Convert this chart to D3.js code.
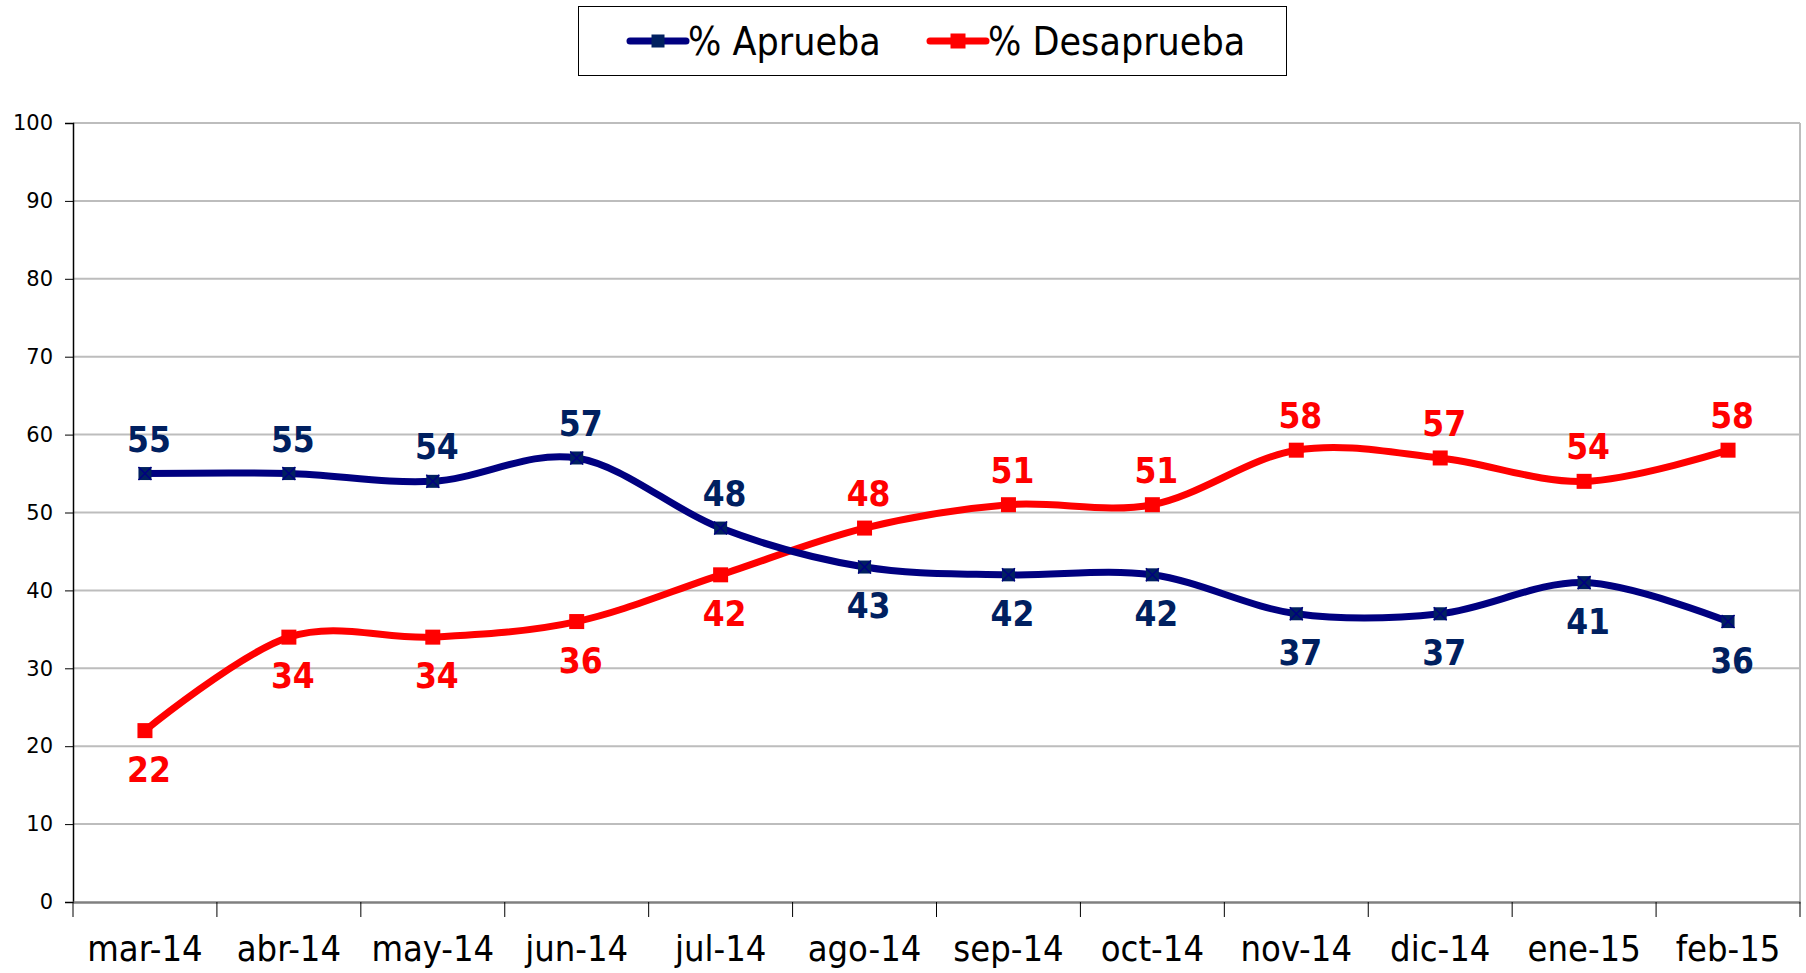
<!DOCTYPE html>
<html>
<head>
<meta charset="utf-8">
<style>
    body { margin: 0; background: #fff; }
    svg { display: block; }
    .ylab { font-family: "DejaVu Sans", Verdana, sans-serif; font-size: 21px; fill: #000; }
    .xlab, .legend-text { font-family: "DejaVu Sans Condensed", "DejaVu Sans", sans-serif; font-stretch: condensed; font-size: 36px; fill: #000; }
    .legend-text { font-size: 39px; }
    .dlabel { font-family: "DejaVu Sans Condensed", "DejaVu Sans", sans-serif; font-stretch: condensed; font-weight: bold; font-size: 35px; }
</style>
<script src="https://d3js.org/d3.v7.min.js"></script>
</head>
<body>
<svg width="1806" height="973"></svg>
<script>
    const months = ["mar-14", "abr-14", "may-14", "jun-14", "jul-14", "ago-14", "sep-14", "oct-14", "nov-14", "dic-14", "ene-15", "feb-15"];
    const aprueba = [55, 55, 54, 57, 48, 43, 42, 42, 37, 37, 41, 36];
    const desaprueba = [22, 34, 34, 36, 42, 48, 51, 51, 58, 57, 54, 58];
    const yTicks = [0, 10, 20, 30, 40, 50, 60, 70, 80, 90, 100];
    // where each value label sits relative to its point
    const apruebaSide = ["up", "up", "up", "up", "up", "down", "down", "down", "down", "down", "down", "down"];
    const desapruebaSide = ["down", "down", "down", "down", "down", "up", "up", "up", "up", "up", "up", "up"];

    const svg = d3.select("svg");
    const plotLeft = 73, plotRight = 1800, plotTop = 123, plotBottom = 902;

    const x = d3.scaleBand().domain(months).range([plotLeft, plotRight]);
    const y = d3.scaleLinear().domain([0, 100]).range([plotBottom, plotTop]);
    const cx = m => x(m) + x.bandwidth() / 2;

    // gridlines
    svg.append("g").selectAll("line")
        .data(yTicks.filter(d => d > 0))
        .join("line")
        .attr("x1", plotLeft).attr("x2", plotRight)
        .attr("y1", d => y(d)).attr("y2", d => y(d))
        .attr("stroke", "#bdbdbd").attr("stroke-width", 2);

    // right border of plot area
    svg.append("line")
        .attr("x1", plotRight).attr("x2", plotRight).attr("y1", plotTop).attr("y2", plotBottom)
        .attr("stroke", "#bdbdbd").attr("stroke-width", 2);

    // y axis
    const yAxis = svg.append("g")
        .attr("transform", `translate(${plotLeft},0)`)
        .call(d3.axisLeft(y).tickValues(yTicks).tickSize(8).tickPadding(12));
    yAxis.attr("font-family", null).attr("font-size", null);
    yAxis.select(".domain").attr("stroke", "#000").attr("stroke-width", 1.5);
    yAxis.selectAll(".tick line").attr("stroke", "#000");
    yAxis.selectAll("text").attr("class", "ylab");

    // x axis
    const xAxis = svg.append("g")
        .attr("transform", `translate(0,${plotBottom})`)
        .call(d3.axisBottom(x).tickSize(0).tickPadding(33));
    xAxis.attr("font-family", null).attr("font-size", null);
    xAxis.select(".domain").attr("stroke", "#808080").attr("stroke-width", 2.5);
    xAxis.selectAll("text").attr("class", "xlab");
    svg.append("g").selectAll("line")
        .data(d3.range(months.length + 1))
        .join("line")
        .attr("x1", i => plotLeft + i * x.bandwidth()).attr("x2", i => plotLeft + i * x.bandwidth())
        .attr("y1", plotBottom).attr("y2", plotBottom + 15)
        .attr("stroke", "#000").attr("stroke-width", 1);

    const line = d3.line()
        .x((d, i) => cx(months[i]))
        .y(d => y(d))
        .curve(d3.curveCatmullRom.alpha(0));

    function drawSeries(values, color, markColor, labelColor, sides, cross, size) {
        const g = svg.append("g");
        g.append("path")
            .datum(values)
            .attr("d", line)
            .attr("fill", "none")
            .attr("stroke", color)
            .attr("stroke-width", 7)
            .attr("stroke-linejoin", "round");
        const pts = g.selectAll("g.pt")
            .data(values)
            .join("g")
            .attr("class", "pt")
            .attr("transform", (d, i) => `translate(${cx(months[i])},${y(d)})`);
        pts.append("rect")
            .attr("x", -size / 2).attr("y", -size / 2)
            .attr("width", size).attr("height", size)
            .attr("fill", markColor);
        if (cross) {
            pts.append("path")
                .attr("d", `M${-size / 2},${-size / 2}L${size / 2},${size / 2}M${size / 2},${-size / 2}L${-size / 2},${size / 2}`)
                .attr("stroke", color).attr("stroke-width", 1.5);
        }
        g.selectAll("text.dlabel")
            .data(values)
            .join("text")
            .attr("class", "dlabel")
            .attr("fill", labelColor)
            .attr("text-anchor", "middle")
            .attr("x", (d, i) => cx(months[i]) + 4)
            .attr("y", (d, i) => y(d) + (sides[i] === "up" ? -22 : 51))
            .text(d => d);
    }

    drawSeries(desaprueba, "#ff0000", "#ff0000", "#ff0000", desapruebaSide, false, 15);
    drawSeries(aprueba, "#000080", "#002060", "#002060", apruebaSide, true, 13);

    // legend
    const lg = svg.append("g");
    lg.append("rect")
        .attr("x", 578.5).attr("y", 6.5).attr("width", 708).attr("height", 69)
        .attr("fill", "#fff").attr("stroke", "#000").attr("stroke-width", 1);
    const legendItems = [
        {name: "% Aprueba", color: "#000080", mark: "#002060", x0: 630, size: 13},
        {name: "% Desaprueba", color: "#ff0000", mark: "#ff0000", x0: 930, size: 15}
    ];
    legendItems.forEach(it => {
        lg.append("line")
            .attr("x1", it.x0).attr("x2", it.x0 + 56).attr("y1", 41).attr("y2", 41)
            .attr("stroke", it.color).attr("stroke-width", 7).attr("stroke-linecap", "round");
        lg.append("rect")
            .attr("x", it.x0 + 28 - it.size / 2).attr("y", 41 - it.size / 2)
            .attr("width", it.size).attr("height", it.size).attr("fill", it.mark);
        lg.append("text")
            .attr("class", "legend-text")
            .attr("x", it.x0 + 58).attr("y", 55)
            .text(it.name);
    });
</script>
</body>
</html>
